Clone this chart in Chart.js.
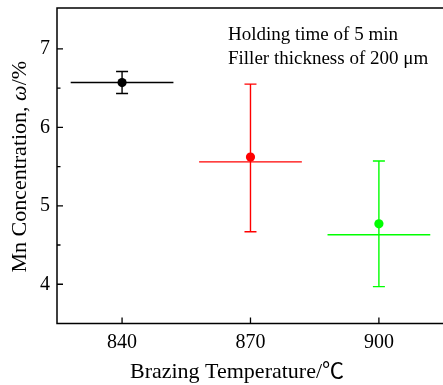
<!DOCTYPE html>
<html>
<head>
<meta charset="utf-8">
<script src="https://cdn.jsdelivr.net/npm/chart.js@4.4.1/dist/chart.umd.min.js"></script>
<style>
  body { margin: 0; background: #fff; }
  canvas { display: block; }
</style>
</head>
<body>
<canvas id="c" width="443" height="385"></canvas>
<script>
// -------------------- data ----------------------
var temps = [840, 870, 900];
var mnValues = [6.57, 5.62, 4.77];
var errLow = [6.43, 4.67, 3.97];
var errHigh = [6.71, 6.55, 5.57];
var hBarY = [6.57, 5.56, 4.63];
var hBarHalf = [12, 12, 12];
var colors = ['#000000', '#ff0000', '#00ff00'];

var xTicks = [840, 870, 900];
var yTicks = [4, 5, 6, 7];
var yMinorTicks = [4.5, 5.5, 6.5];

var SERIF = "'Liberation Serif', 'Noto Sans CJK SC', serif";

// datasets: horizontal bar line + point for each temperature
var datasets = [];
temps.forEach(function (t, i) {
    datasets.push({
        type: 'line',
        data: [{x: t - hBarHalf[i], y: hBarY[i]}, {x: t + hBarHalf[i], y: hBarY[i]}],
        borderColor: colors[i],
        borderWidth: 1.4,
        pointRadius: 0,
        showLine: true,
        order: 2
    });
});
temps.forEach(function (t, i) {
    datasets.push({
        type: 'scatter',
        data: [{x: t, y: mnValues[i]}],
        backgroundColor: colors[i],
        borderWidth: 0,
        pointRadius: 4.6,
        order: 1
    });
});

// error bars, ticks, frame and texts
var extras = {
    id: 'extras',
    beforeDatasetsDraw: function (chart) {
        var ctx = chart.ctx, xs = chart.scales.x, ys = chart.scales.y;
        ctx.save();
        ctx.lineWidth = 1.4;
        temps.forEach(function (t, i) {
            var px = xs.getPixelForValue(t);
            var top = ys.getPixelForValue(errHigh[i]);
            var bot = ys.getPixelForValue(errLow[i]);
            ctx.strokeStyle = colors[i];
            ctx.beginPath();
            ctx.moveTo(px, top); ctx.lineTo(px, bot);
            ctx.moveTo(px - 6, top); ctx.lineTo(px + 6, top);
            ctx.moveTo(px - 6, bot); ctx.lineTo(px + 6, bot);
            ctx.stroke();
        });
        ctx.restore();
    },
    afterDraw: function (chart) {
        var ctx = chart.ctx, a = chart.chartArea;
        var xs = chart.scales.x, ys = chart.scales.y;
        ctx.save();
        ctx.strokeStyle = '#000';
        ctx.lineWidth = 1.5;
        ctx.beginPath();
        ctx.moveTo(chart.width, a.top); ctx.lineTo(a.left, a.top);
        ctx.lineTo(a.left, a.bottom); ctx.lineTo(chart.width, a.bottom);
        ctx.stroke();

        // inward ticks
        ctx.lineWidth = 1.3;
        ctx.beginPath();
        xTicks.forEach(function (v) {
            var p = xs.getPixelForValue(v);
            ctx.moveTo(p, a.bottom); ctx.lineTo(p, a.bottom - 6);
        });
        yTicks.forEach(function (v) {
            var p = ys.getPixelForValue(v);
            ctx.moveTo(a.left, p); ctx.lineTo(a.left + 6, p);
        });
        yMinorTicks.forEach(function (v) {
            var p = ys.getPixelForValue(v);
            ctx.moveTo(a.left, p); ctx.lineTo(a.left + 3.5, p);
        });
        ctx.stroke();

        // annotation
        ctx.fillStyle = '#000';
        ctx.font = '19px ' + SERIF;
        ctx.textAlign = 'left';
        ctx.textBaseline = 'alphabetic';
        ctx.fillText('Holding time of 5 min', 228, 40);
        ctx.fillText('Filler thickness of 200 \u03bcm', 228, 64);

        // x title
        ctx.font = '22px ' + SERIF;
        ctx.textAlign = 'center';
        ctx.textBaseline = 'middle';
        ctx.fillText('Brazing Temperature/\u2103', 237, 372);

        // y title (italic omega)
        var parts = [['Mn Concentration, ', ''], ['\u03c9', 'italic '], ['/%', '']];
        ctx.translate(20, (a.top + a.bottom) / 2 + 1);
        ctx.rotate(-Math.PI / 2);
        var total = 0;
        parts.forEach(function (p) {
            ctx.font = p[1] + '22px ' + SERIF;
            total += ctx.measureText(p[0]).width;
        });
        var x = -total / 2;
        ctx.textAlign = 'left';
        parts.forEach(function (p) {
            ctx.font = p[1] + '22px ' + SERIF;
            ctx.fillText(p[0], x, 0);
            x += ctx.measureText(p[0]).width;
        });
        ctx.restore();
    }
};

var chart = new Chart(document.getElementById('c'), {
    type: 'scatter',
    data: { datasets: datasets },
    options: {
        responsive: false,
        devicePixelRatio: 1,
        animation: false,
        layout: { padding: { top: 8, right: 0, left: 0, bottom: 0 } },
        plugins: { legend: { display: false }, tooltip: { enabled: false } },
        scales: {
            x: {
                type: 'linear',
                min: 824.8,
                max: 913.9,
                afterBuildTicks: function (s) { s.ticks = xTicks.map(function (v) { return {value: v}; }); },
                afterFit: function (s) { s.height = 61.5; s.paddingLeft = 0; s.paddingRight = 0; },
                grid: { display: false, drawTicks: false },
                border: { display: false },
                ticks: { color: '#000', padding: 7, maxRotation: 0, font: { family: SERIF, size: 20 } }
            },
            y: {
                type: 'linear',
                min: 3.5,
                max: 7.52,
                afterBuildTicks: function (s) { s.ticks = yTicks.map(function (v) { return {value: v}; }); },
                afterFit: function (s) { s.width = 57; s.paddingTop = 0; s.paddingBottom = 0; },
                grid: { display: false, drawTicks: false },
                border: { display: false },
                ticks: { color: '#000', padding: 7, font: { family: SERIF, size: 20 } }
            }
        }
    },
    plugins: [extras]
});
</script>
</body>
</html>
